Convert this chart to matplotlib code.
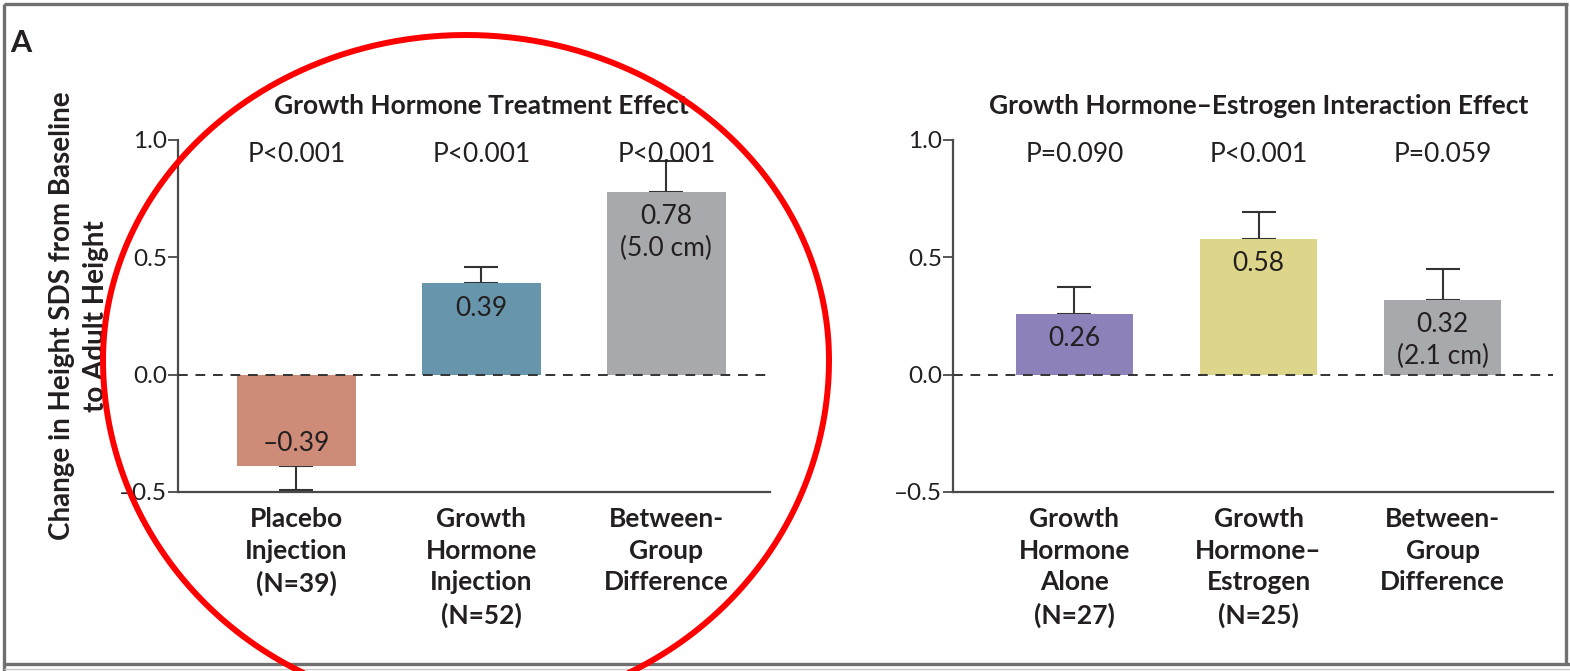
import numpy as np
import matplotlib
matplotlib.use("Agg")
import matplotlib.pyplot as plt
from matplotlib.transforms import blended_transform_factory, offset_copy

plt.rcParams['font.family'] = ['Lato', 'DejaVu Sans']

# ---- data -------------------------------------------------------------
left_title = "Growth Hormone Treatment Effect"
left_categories = ["Placebo\nInjection\n(N=39)",
                   "Growth\nHormone\nInjection\n(N=52)",
                   "Between-\nGroup\nDifference"]
left_values = [-0.39, 0.39, 0.78]
left_errors = [0.10, 0.07, 0.13]
left_value_labels = ["\u20130.39", "0.39", "0.78\n(5.0 cm)"]
left_pvalues = ["P<0.001", "P<0.001", "P<0.001"]
left_colors = ["#CE8B78", "#6795AB", "#A8A9AC"]

right_title = "Growth Hormone\u2013Estrogen Interaction Effect"
right_categories = ["Growth\nHormone\nAlone\n(N=27)",
                    "Growth\nHormone\u2013\nEstrogen\n(N=25)",
                    "Between-\nGroup\nDifference"]
right_values = [0.26, 0.58, 0.32]
right_errors = [0.115, 0.115, 0.13]
right_value_labels = ["0.26", "0.58", "0.32\n(2.1 cm)"]
right_pvalues = ["P=0.090", "P<0.001", "P=0.059"]
right_colors = ["#8E80B8", "#DDD68A", "#A8A9AC"]

y_ticks = [-0.5, 0.0, 0.5, 1.0]
y_tick_labels = ["\u20130.5", "0.0", "0.5", "1.0"]
y_label = "Change in Height SDS from Baseline\nto Adult Height"

# ---- figure -----------------------------------------------------------
W, H = 1570, 671
DPI = 100
fig = plt.figure(figsize=(W / DPI, H / DPI), dpi=DPI)
fig.patch.set_facecolor("white")

TXT = "#231F20"
AX = "#4A4A4A"
FS = 19
TICK_FS = 17.5


def px_rect(x0, x1, ytop, ybot):
    return [x0 / W, (H - ybot) / H, (x1 - x0) / W, (ybot - ytop) / H]


def draw_panel(rect, xlim, title, cats, vals, errs, vlabels, pvals, colors):
    ax = fig.add_axes(rect)
    ax.set_xlim(*xlim)
    ax.set_ylim(-0.5, 1.0)
    x = np.arange(len(vals))
    ax.bar(x, vals, width=0.64, color=colors, zorder=2)
    lower = [e if v < 0 else 0 for v, e in zip(vals, errs)]
    upper = [e if v >= 0 else 0 for v, e in zip(vals, errs)]
    ax.errorbar(x, vals, yerr=[lower, upper], fmt="none", ecolor="#333333",
                elinewidth=1.5, capsize=12, capthick=1.5, zorder=1)
    ax.axhline(0, color="#333333", lw=1.4, ls=(0, (5, 4)), zorder=3)

    for s in ["top", "right"]:
        ax.spines[s].set_visible(False)
    for s in ["left", "bottom"]:
        ax.spines[s].set_color(AX)
        ax.spines[s].set_linewidth(1.6)
    ax.set_yticks(y_ticks)
    ax.set_yticklabels(y_tick_labels)
    ax.tick_params(axis="y", direction="out", length=7, width=1.3,
                   color=AX, labelsize=TICK_FS, labelcolor=TXT, pad=1)
    ax.set_xticks([])
    ax.set_facecolor("none")

    for xi, v, lab in zip(x, vals, vlabels):
        if v >= 0:
            ax.annotate(lab, (xi, v), xytext=(0, -9), textcoords="offset points",
                        ha="center", va="top", fontsize=FS, color=TXT,
                        linespacing=1.35, zorder=4)
        else:
            ax.annotate(lab, (xi, v), xytext=(0, 7), textcoords="offset points",
                        ha="center", va="bottom", fontsize=FS, color=TXT,
                        zorder=4)

    for xi, p in zip(x, pvals):
        ax.text(xi, 0.94, p, ha="center", va="center", fontsize=FS, color=TXT)

    ax.text(1, 1.0, title, ha="center", va="center", fontsize=FS,
            fontweight="bold", color=TXT,
            transform=offset_copy(ax.transData, fig=fig, x=0, y=34, units="dots"))

    btrans = blended_transform_factory(ax.transData, ax.transAxes)
    for xi, c in zip(x, cats):
        ax.text(xi, 0, c, ha="center", va="top", fontsize=FS,
                fontweight="bold", color=TXT, linespacing=1.38,
                transform=offset_copy(btrans, fig=fig, x=0, y=-15, units="dots"))
    return ax


draw_panel(px_rect(178, 770, 140, 492), (-0.64, 2.56), left_title,
           left_categories, left_values, left_errors, left_value_labels,
           left_pvalues, left_colors)
draw_panel(px_rect(953, 1553, 140, 492), (-0.66, 2.60), right_title,
           right_categories, right_values, right_errors, right_value_labels,
           right_pvalues, right_colors)

fig.text(79 / W, (H - 316) / H, y_label, rotation=90, ha="center", va="center",
         fontsize=20, fontweight="bold", color=TXT, linespacing=1.38,
         multialignment="center")
fig.text(21 / W, (H - 43) / H, "A", ha="center", va="center", fontsize=22,
         fontweight="bold", color=TXT)

# ---- frame and hand-drawn highlight ring -------------------------------
ov = fig.add_axes([0, 0, 1, 1], zorder=10)
ov.set_xlim(0, W)
ov.set_ylim(H, 0)
ov.axis("off")
ov.patch.set_alpha(0)
frame = "#707070"
ov.plot([4, W - 2], [4, 4], color=frame, lw=2.4, solid_capstyle="butt")
ov.plot([4, 4], [4, H], color=frame, lw=2.4, solid_capstyle="butt")
ov.plot([W - 4, W - 4], [4, 664], color=frame, lw=2.4, solid_capstyle="butt")
ov.plot([4, W], [664, 664], color=frame, lw=2.4, solid_capstyle="butt")
ov.plot([4, W], [668.5, 668.5], color="#C8C8C8", lw=1.0, solid_capstyle="butt")

t = np.linspace(0, 2 * np.pi, 600)
b = np.where(np.sin(t) > 0, 325, 350)
ring_x = 466 + 363 * np.cos(t)
ring_y = 360 - b * np.sin(t)
ov.plot(ring_x, ring_y, color="#FF0000", lw=4.3, clip_on=True)

fig.savefig("out.png", dpi=DPI, facecolor="white")
